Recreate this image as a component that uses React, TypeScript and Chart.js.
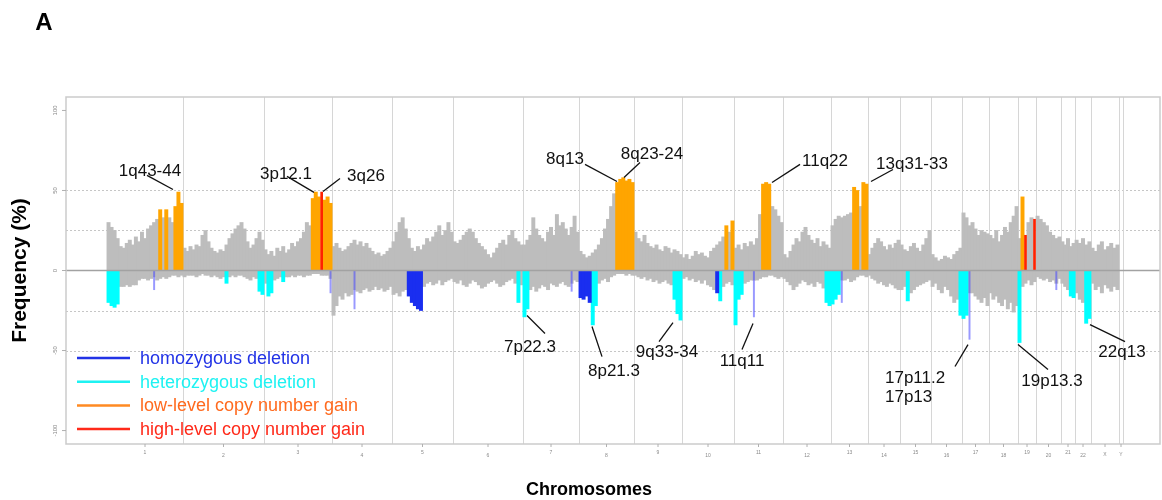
import React, { useEffect, useRef } from 'react';
import { Chart, registerables } from 'chart.js';

Chart.register(...registerables);

// ---- data -------------------------------------------------------------
const CHROMOSOMES = ['1', '2', '3', '4', '5', '6', '7', '8', '9', '10', '11', '12', '13', '14', '15', '16', '17', '18', '19', '20', '21', '22', 'X', 'Y'];
// genomic span of each chromosome on the plot's probe-index axis
const CHROM_SPAN = [76, 81, 68, 60, 61, 70, 56, 55, 48, 52, 49, 48, 37, 32, 31, 31, 27, 29, 18, 25, 14, 16, 28, 4];
const GENOME_PAD_LEFT = 41;
const GENOME_PAD_RIGHT = 37;

// gain frequency (%) per genomic bin, one row per chromosome
const GAIN_FREQ: number[][] = [
  [30, 27, 25, 20, 15, 14, 17, 19, 16, 21, 18, 24, 20, 26, 28, 30, 32, 38, 33, 38, 33, 30, 40, 49, 42],
  [14, 12, 15, 13, 16, 15, 22, 25, 18, 14, 12, 11, 13, 12, 16, 20, 23, 26, 28, 30, 26, 18, 14, 16, 20, 24, 19],
  [13, 10, 12, 9, 14, 12, 15, 11, 13, 17, 15, 18, 20, 24, 30, 28, 45, 49, 46, 49, 44, 46, 42],
  [15, 17, 14, 12, 13, 15, 17, 19, 16, 18, 15, 17, 14, 12, 10, 11, 9, 10, 12, 14],
  [18, 24, 30, 33, 26, 20, 14, 12, 15, 13, 16, 20, 18, 21, 24, 28, 22, 25, 30, 24],
  [18, 17, 19, 22, 24, 26, 24, 20, 17, 15, 13, 10, 8, 11, 14, 17, 19, 16, 22, 25, 20, 18, 16],
  [16, 19, 22, 33, 26, 22, 20, 18, 24, 27, 22, 35, 28, 30, 26, 22, 27, 34, 24],
  [12, 10, 8, 9, 11, 13, 16, 20, 26, 32, 40, 48, 55, 57, 58, 56, 57, 55],
  [24, 20, 18, 22, 17, 15, 14, 16, 13, 12, 15, 14, 11, 13, 12, 10],
  [8, 10, 7, 9, 12, 10, 11, 9, 8, 12, 14, 16, 18, 21, 28, 24, 31],
  [14, 16, 13, 17, 15, 18, 16, 20, 35, 54, 55, 54, 40, 38, 34, 30],
  [10, 8, 12, 16, 20, 18, 24, 27, 22, 19, 17, 20, 15, 18, 16, 14],
  [28, 32, 34, 33, 34, 35, 36, 52, 50, 40, 55, 54],
  [10, 14, 17, 20, 18, 15, 13, 16, 14, 17, 19],
  [16, 13, 12, 15, 17, 14, 12, 16, 20, 25],
  [10, 8, 6, 7, 9, 8, 7, 10, 12, 14],
  [36, 33, 28, 30, 26, 22, 25, 24, 23],
  [22, 20, 25, 18, 22, 27, 24, 30, 34, 40],
  [20, 46, 22, 30, 33, 32],
  [34, 32, 30, 28, 24, 22, 20, 21],
  [18, 16, 20, 15, 17],
  [19, 17, 20, 16, 18],
  [14, 12, 16, 18, 13, 15, 17, 14, 16],
  [],
];

// loss frequency (%) per genomic bin
const LOSS_FREQ: number[][] = [
  [-20, -22, -23, -21, -10, -10, -9, -10, -9, -9, -6, -5, -5, -6, -5, -4, -6, -5, -4, -5, -4, -3, -3, -4, -3],
  [-4, -3, -3, -3, -4, -3, -2, -3, -3, -4, -3, -4, -5, -4, -8, -4, -3, -4, -3, -3, -4, -5, -6, -4, -5, -13, -15],
  [-8, -16, -14, -6, -5, -4, -7, -4, -4, -3, -4, -3, -3, -4, -3, -3, -2, -2, -2, -3, -3, -3, -5],
  [-28, -22, -16, -18, -14, -16, -15, -12, -13, -14, -12, -11, -13, -12, -10, -12, -11, -13, -12, -10],
  [-15, -14, -16, -13, -12, -16, -20, -22, -24, -25, -10, -8, -7, -9, -8, -6, -9, -7, -6, -5],
  [-7, -8, -6, -9, -10, -8, -6, -7, -9, -11, -10, -8, -7, -6, -8, -10, -9, -7, -6, -5, -8, -20, -9],
  [-29, -24, -12, -10, -13, -11, -9, -10, -12, -8, -9, -10, -8, -7, -9, -10, -8, -6, -7],
  [-17, -18, -16, -20, -34, -22, -8, -6, -5, -7, -4, -3, -2, -2, -2, -3, -2, -3],
  [-3, -4, -5, -4, -6, -5, -7, -6, -8, -7, -6, -8, -9, -18, -27, -31],
  [-5, -4, -6, -5, -7, -6, -8, -6, -9, -10, -12, -14, -19, -10, -8, -7, -9],
  [-34, -18, -15, -8, -7, -6, -6, -6, -5, -4, -4, -3, -3, -4, -5, -4],
  [-5, -7, -9, -12, -10, -8, -6, -7, -9, -8, -10, -7, -8, -11, -20, -22],
  [-21, -18, -15, -6, -6, -5, -7, -6, -4, -3, -3, -4],
  [-3, -5, -6, -8, -7, -9, -10, -8, -9, -11, -12],
  [-12, -10, -19, -14, -12, -10, -9, -8, -7, -6],
  [-10, -8, -12, -14, -10, -12, -16, -20, -18, -28],
  [-30, -28, -14, -14, -16, -18, -20, -17, -22],
  [-14, -18, -16, -20, -22, -18, -24, -20, -26, -22],
  [-45, -10, -8, -6, -9, -7],
  [-4, -5, -6, -5, -7, -6, -8, -5],
  [-8, -10, -12, -16, -17],
  [-14, -18, -20, -33, -30],
  [-8, -12, -10, -14, -9, -11, -13, -10, -12],
  [],
];

// bins classified as low-level / high-level gain, heterozygous / homozygous deletion
const LOW_GAIN_BINS: number[][] = [[17, 19, 22, 23, 24], [], [16, 17, 18, 20, 21, 22], [], [], [], [], [12, 13, 14, 15, 16, 17], [], [14, 16], [9, 10, 11], [], [7, 8, 10, 11], [], [], [], [], [], [1], [], [], [], [], []];
const HIGH_GAIN_BINS: number[][] = [[], [], [19], [], [], [], [], [], [], [], [], [], [], [], [], [], [], [], [2, 5], [], [], [], [], []];
const HET_DEL_BINS: number[][] = [[0, 1, 2, 3], [14, 25, 26], [1, 2, 6], [], [], [21], [0, 1], [4, 5], [13, 14, 15], [12], [0, 1, 2], [14, 15], [0, 1, 2], [], [2], [9], [0, 1], [], [0], [], [3, 4], [3, 4], [], []];
const HOM_DEL_BINS: number[][] = [[], [], [], [], [5, 6, 7, 8, 9], [], [], [0, 1, 2, 3], [], [11], [], [], [], [], [], [], [], [], [], [], [], [], [], []];
// isolated single-probe homozygous deletions: [chromosome, bin, frequency]
const SINGLE_HOM_DEL: [string, number, number][] = [['1', 15, -12], ['3', 22, -14], ['4', 7, -24], ['7', 16, -13], ['11', 6, -29], ['13', 3, -20], ['17', 2, -43], ['20', 6, -12]];

const Y_TICKS = [100, 50, 0, -50, -100];
const Y_GRID = [50, 25, -25, -50];
const Y_LIMIT = 108.4;

const LEGEND_LABELS = ['homozygous deletion', 'heterozygous deletion', 'low-level copy number gain', 'high-level copy number gain'];
const LEGEND_LINE_COLORS = ['#2233e6', '#1ef2f2', '#ff8a22', '#ff2a1a'];
const LEGEND_TEXT_COLORS = ['#2233e6', '#1ef2f2', '#ff6a1e', '#ff2a1a'];

const COLORS = { gray: '#bdbdbd', low: '#ffa500', high: '#ff2200', het: '#00ffff', hom: '#1a2ef0', single: 'rgba(70,70,255,0.55)' };

// annotations in data coordinates (genome position, frequency %)
const ANNOTATIONS: { text: string[]; tx: number; ty: number; from: [number, number]; to: [number, number]; align?: CanvasTextAlign }[] = [
  { text: ['1q43-44'], tx: 43, ty: 61.9, from: [40, 59.4], to: [66, 50.6] },
  { text: ['3p12.1'], tx: 179, ty: 60, from: [180, 58.8], to: [207, 48.8] },
  { text: ['3q26'], tx: 259, ty: 58.8, from: [233, 57.5], to: [216, 49.4] },
  { text: ['8q13'], tx: 458, ty: 69.4, from: [478, 66.3], to: [510, 55.6] },
  { text: ['8q23-24'], tx: 545, ty: 72.5, from: [533, 67.5], to: [517, 58.1] },
  { text: ['11q22'], tx: 718, ty: 68.1, from: [693, 66.3], to: [665, 55] },
  { text: ['13q31-33'], tx: 805, ty: 66.3, from: [786, 63.1], to: [764, 55.6] },
  { text: ['7p22.3'], tx: 423, ty: -48.1, from: [420, -28.1], to: [438, -39.4] },
  { text: ['8p21.3'], tx: 507, ty: -63.1, from: [485, -35], to: [495, -53.8] },
  { text: ['9q33-34'], tx: 560, ty: -51.3, from: [566, -32.5], to: [552, -44.4] },
  { text: ['11q11'], tx: 635, ty: -56.9, from: [646, -33.1], to: [635, -49.4] },
  { text: ['17p11.2', '17p13'], tx: 778, ty: -67.5, from: [861, -46.3], to: [848, -60], align: 'left' },
  { text: ['19p13.3'], tx: 945, ty: -69.4, from: [911, -46.3], to: [941, -61.9] },
  { text: ['22q13'], tx: 1015, ty: -51.3, from: [983, -33.8], to: [1018, -44.4] },
];

// ---- derived -----------------------------------------------------------
const CHROM_START: number[] = [];
CHROM_SPAN.reduce((acc, len, i) => { CHROM_START[i] = acc; return acc + len; }, 0);
const GENOME_END = CHROM_START[CHROM_START.length - 1] + CHROM_SPAN[CHROM_SPAN.length - 1];

function binX(ci: number, i: number, n: number) {
  return CHROM_START[ci] + ((i + 0.5) * CHROM_SPAN[ci]) / n;
}

function buildDatasets() {
  const gray: { x: number; y: number }[] = [];
  const low: { x: number; y: number }[] = [];
  const high: { x: number; y: number }[] = [];
  const het: { x: number; y: number }[] = [];
  const hom: { x: number; y: number }[] = [];
  const single: { x: number; y: number }[] = [];
  CHROMOSOMES.forEach((_, ci) => {
    const g = GAIN_FREQ[ci];
    g.forEach((v, i) => {
      const pt = { x: binX(ci, i, g.length), y: v };
      if (HIGH_GAIN_BINS[ci].includes(i)) high.push(pt);
      else if (LOW_GAIN_BINS[ci].includes(i)) low.push(pt);
      else gray.push(pt);
    });
    const l = LOSS_FREQ[ci];
    l.forEach((v, i) => {
      const pt = { x: binX(ci, i, l.length), y: v };
      if (HOM_DEL_BINS[ci].includes(i)) hom.push(pt);
      else if (HET_DEL_BINS[ci].includes(i)) het.push(pt);
      else gray.push(pt);
    });
  });
  SINGLE_HOM_DEL.forEach(([chr, bin, v]) => {
    const ci = CHROMOSOMES.indexOf(chr);
    single.push({ x: binX(ci, bin, LOSS_FREQ[ci].length), y: v });
  });
  const common = { grouped: false, borderWidth: 0, barThickness: 3.3 };
  return [
    { label: 'single', data: single, backgroundColor: COLORS.single, ...common, barThickness: 1.3 },
    { label: 'high-level copy number gain', data: high, backgroundColor: COLORS.high, ...common, barThickness: 2 },
    { label: 'low-level copy number gain', data: low, backgroundColor: COLORS.low, ...common },
    { label: 'homozygous deletion', data: hom, backgroundColor: COLORS.hom, ...common },
    { label: 'heterozygous deletion', data: het, backgroundColor: COLORS.het, ...common },
    { label: 'frequency', data: gray, backgroundColor: COLORS.gray, ...common },
  ];
}

const FONT = '"Liberation Sans", Arial, Helvetica, sans-serif';

const decorPlugin = {
  id: 'decor',
  beforeDatasetsDraw(chart: any) {
    const { ctx, chartArea: a, scales } = chart;
    const x = scales.x, y = scales.y;
    ctx.save();
    ctx.lineWidth = 1;
    ctx.strokeStyle = '#c6c6c6';
    ctx.setLineDash([2, 2]);
    Y_GRID.forEach((v) => {
      const py = Math.round(y.getPixelForValue(v)) + 0.5;
      ctx.beginPath(); ctx.moveTo(a.left, py); ctx.lineTo(a.right, py); ctx.stroke();
    });
    ctx.setLineDash([]);
    ctx.strokeStyle = '#d6d6d6';
    CHROMOSOMES.forEach((_, ci) => {
      const px = Math.round(x.getPixelForValue(CHROM_START[ci] + CHROM_SPAN[ci])) + 0.5;
      ctx.beginPath(); ctx.moveTo(px, a.top); ctx.lineTo(px, a.bottom); ctx.stroke();
    });
    ctx.restore();
  },
  afterDatasetsDraw(chart: any) {
    const { ctx, chartArea: a, scales } = chart;
    const x = scales.x, y = scales.y;
    ctx.save();
    // zero line
    const y0 = y.getPixelForValue(0);
    ctx.strokeStyle = '#a2a2a2';
    ctx.lineWidth = 1.5;
    ctx.beginPath(); ctx.moveTo(a.left, y0); ctx.lineTo(a.right, y0); ctx.stroke();
    // frame
    ctx.strokeStyle = '#cbcbcb';
    ctx.lineWidth = 1.5;
    ctx.strokeRect(a.left, a.top, a.right - a.left, a.bottom - a.top);

    // y ticks
    ctx.strokeStyle = '#b0b0b0';
    ctx.lineWidth = 1;
    ctx.fillStyle = '#8a8a8a';
    ctx.font = `6px ${FONT}`;
    ctx.textAlign = 'center';
    ctx.textBaseline = 'middle';
    Y_TICKS.forEach((v) => {
      const py = y.getPixelForValue(v);
      ctx.beginPath(); ctx.moveTo(a.left - 4, py); ctx.lineTo(a.left, py); ctx.stroke();
      ctx.save();
      ctx.translate(a.left - 11, py);
      ctx.rotate(-Math.PI / 2);
      ctx.fillText(String(v), 0, 0);
      ctx.restore();
    });

    // x ticks at chromosome centres
    ctx.font = `5px ${FONT}`;
    CHROMOSOMES.forEach((name, ci) => {
      const px = x.getPixelForValue(CHROM_START[ci] + CHROM_SPAN[ci] / 2);
      ctx.beginPath(); ctx.moveTo(px, a.bottom); ctx.lineTo(px, a.bottom + 3); ctx.stroke();
      const num = parseInt(name, 10);
      const ly = isNaN(num) ? a.bottom + 11 : num % 2 === 1 ? a.bottom + 9 : a.bottom + 12;
      ctx.fillText(name, px, ly);
    });

    // legend
    ctx.textAlign = 'left';
    ctx.font = `18px ${FONT}`;
    LEGEND_LABELS.forEach((label, i) => {
      const ly = a.bottom - 86 + i * 23.7;
      ctx.strokeStyle = LEGEND_LINE_COLORS[i];
      ctx.lineWidth = 2.5;
      ctx.beginPath(); ctx.moveTo(a.left + 11, ly); ctx.lineTo(a.left + 64, ly); ctx.stroke();
      ctx.fillStyle = LEGEND_TEXT_COLORS[i];
      ctx.fillText(label, a.left + 74, ly + 1);
    });

    // annotations
    ctx.fillStyle = '#111';
    ctx.strokeStyle = '#111';
    ctx.lineWidth = 1.3;
    ctx.font = `17px ${FONT}`;
    ANNOTATIONS.forEach((an) => {
      ctx.beginPath();
      ctx.moveTo(x.getPixelForValue(an.from[0]), y.getPixelForValue(an.from[1]));
      ctx.lineTo(x.getPixelForValue(an.to[0]), y.getPixelForValue(an.to[1]));
      ctx.stroke();
      ctx.textAlign = an.align || 'center';
      an.text.forEach((t, k) => {
        ctx.fillText(t, x.getPixelForValue(an.tx), y.getPixelForValue(an.ty) + k * 19);
      });
    });

    // titles
    ctx.fillStyle = '#000';
    ctx.font = `bold 24px ${FONT}`;
    ctx.textAlign = 'center';
    ctx.fillText('A', 44, 23);
    ctx.font = `bold 21px ${FONT}`;
    ctx.save();
    ctx.translate(20, (a.top + a.bottom) / 2);
    ctx.rotate(-Math.PI / 2);
    ctx.fillText('Frequency (%)', 0, 0);
    ctx.restore();
    ctx.font = `bold 18px ${FONT}`;
    ctx.fillText('Chromosomes', 589, 490);
    ctx.restore();
  },
};

export default function App() {
  const ref = useRef<HTMLCanvasElement>(null);
  useEffect(() => {
    document.body.style.margin = '0';
    const chart = new Chart(ref.current as HTMLCanvasElement, {
      type: 'bar',
      data: { datasets: buildDatasets() as any },
      options: {
        animation: false,
        responsive: false,
        layout: { padding: { left: 66, top: 97, right: 2, bottom: 56 } },
        plugins: { legend: { display: false }, tooltip: { enabled: false } },
        scales: {
          x: { type: 'linear', offset: false, min: -GENOME_PAD_LEFT, max: GENOME_END + GENOME_PAD_RIGHT, display: false },
          y: { type: 'linear', min: -Y_LIMIT, max: Y_LIMIT, display: false },
        },
      },
      plugins: [decorPlugin],
    });
    return () => chart.destroy();
  }, []);
  return (
    <div style={{ width: 1162, height: 500 }}>
      <canvas ref={ref} width={1162} height={500} style={{ display: 'block' }} />
    </div>
  );
}
